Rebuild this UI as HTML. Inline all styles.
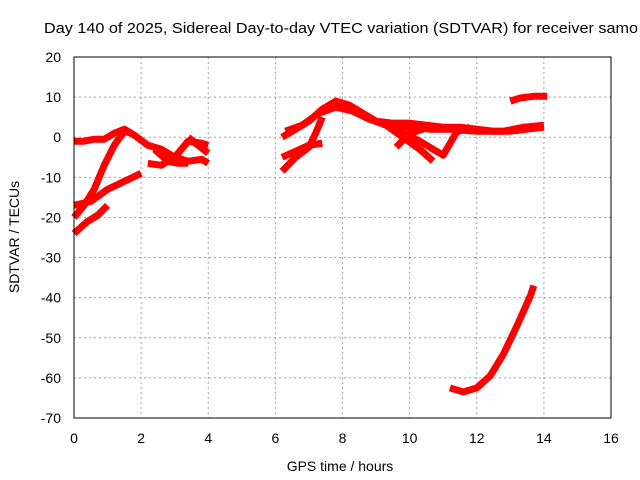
<!DOCTYPE html>
<html><head><meta charset="utf-8"><style>
body{margin:0;background:#fff}
svg{display:block;font-family:"Liberation Sans",sans-serif}
</style></head><body>
<svg id="c" width="640" height="480" viewBox="0 0 640 480">
<rect width="640" height="480" fill="#fff"/>
<text x="44" y="33" font-size="15" textLength="594" lengthAdjust="spacingAndGlyphs">Day 140 of 2025, Sidereal Day-to-day VTEC variation (SDTVAR) for receiver samo</text>
<g id="grid"></g><g id="series"></g>
<rect x="74" y="57" width="537" height="361" fill="none" stroke="#000" stroke-width="1"/>
<g id="ticks"></g>
<text x="340" y="471" font-size="14" text-anchor="middle">GPS time / hours</text>
<text transform="translate(19,237) rotate(-90)" font-size="14" text-anchor="middle">SDTVAR / TECUs</text>
</svg>
<script>
const xTicks=[0,2,4,6,8,10,12,14,16];
const yTicks=[20,10,0,-10,-20,-30,-40,-50,-60,-70];
const s1=[[0,-1],[0.3,-1],[0.6,-0.5],[0.9,-0.5],[1.2,1],[1.5,2],[1.8,0.5],[2.2,-2],[2.6,-3],[3,-5],[3.4,-6],[3.8,-5.5],[4,-6.5]];
const s2=[[0,-20],[0.3,-17],[0.6,-13],[0.9,-7],[1.2,-2],[1.5,1.5],[1.7,1]];
const s3=[[0,-17],[0.5,-16],[1,-13],[1.5,-11],[2,-9]];
const s4=[[0,-24],[0.4,-21],[0.7,-19.5],[1,-17]];
const s5=[[2.2,-6.5],[2.6,-7],[3,-5],[3.4,-1],[3.8,-1.5],[4,-2]];
const s6=[[2.4,-3],[2.8,-6],[3.1,-6.5],[3.4,-6.5]];
const s7=[[3.4,0],[3.7,-2],[4,-4]];
const s8=[[6.2,0],[6.6,2],[7,4],[7.4,7],[7.8,9],[8.2,8],[8.6,6],[9,4],[9.5,3.5],[10,3.5],[10.5,3],[11,2.5],[11.5,2.5],[12,2],[12.5,1.5],[13,1.5],[13.5,2],[14,2.5]];
const s8b=[[6.3,1.5],[6.8,3],[7.3,6],[7.8,7.5],[8.3,6.5],[8.8,4.5],[9.3,3],[10,2.5],[10.6,2],[11.2,2],[12,1.5],[12.8,1.5],[13.4,2.5],[14,3]];
const s9=[[6.2,-5],[6.6,-3.5],[7,-2],[7.4,-1.5]];
const s10=[[6.2,-8.5],[6.6,-5],[7,-2.5],[7.2,1],[7.4,5]];
const s11=[[9.3,3],[9.8,0],[10.3,-3],[10.7,-6]];
const s12=[[9.6,-2.5],[10,1],[10.4,2]];
const s13=[[9.6,2],[10.3,-1],[11,-4.5],[11.4,1.3],[11.8,2.5]];
const s14=[[13,9],[13.3,9.8],[13.7,10.2],[14.1,10.2]];
const s15=[[11.2,-62.5],[11.6,-63.5],[12,-62.5],[12.4,-59.5],[12.8,-54],[13.2,-47],[13.6,-39.5],[13.7,-37]];
const allSeries=[s1,s2,s3,s4,s5,s6,s7,s8,s8b,s9,s10,s11,s12,s13,s14,s15];
const X=h=>74+h*537/16, Y=v=>57+(20-v)*361/90;
const NS="http://www.w3.org/2000/svg";
const g=document.getElementById('grid'),t=document.getElementById('ticks'),se=document.getElementById('series');
function mk(tag,attrs,par){const e=document.createElementNS(NS,tag);for(const k in attrs)e.setAttribute(k,attrs[k]);par.appendChild(e);return e;}
xTicks.forEach(v=>{const x=X(v);
 const l=mk('line',{x1:x,x2:x,y1:57,y2:418,stroke:'#a0a0a0','stroke-dasharray':'2,3'},g);
 
 
 const tx=mk('text',{x:x,y:443,'font-size':14,'text-anchor':'middle'},t);tx.textContent=v;
 
 
});
yTicks.forEach(v=>{const y=Y(v);
 const l=mk('line',{x1:74,x2:611,y1:y,y2:y,stroke:'#a0a0a0','stroke-dasharray':'2,3'},g);
 
 
 const tx=mk('text',{x:61,y:y+5,'font-size':14,'text-anchor':'end'},t);tx.textContent=v;
 
 
});
allSeries.forEach((s,i)=>{
 const p=mk('polyline',{points:s.map(d=>X(d[0])+','+Y(d[1])).join(' '),fill:'none',stroke:'#ff0000','stroke-width':7,'stroke-linejoin':'round'},se);
 
 
});
</script>
</body></html>
